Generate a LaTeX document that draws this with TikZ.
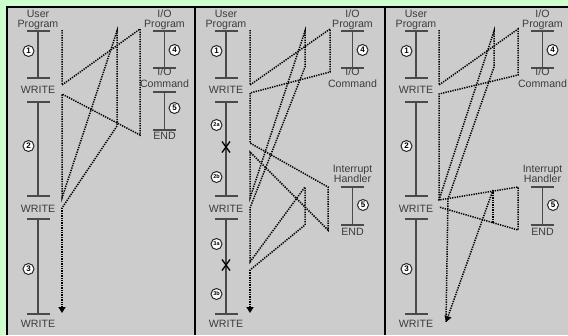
\documentclass[tikz,border=0pt]{standalone}
\usepackage{fontspec}
\setmainfont{Liberation Sans}
\usetikzlibrary{arrows.meta}
\definecolor{bggreen}{HTML}{CCFFCC}
\definecolor{panelgray}{HTML}{CCCCCC}
\definecolor{ink}{HTML}{3C3C3C}
\definecolor{rulegray}{HTML}{4A4A4A}
\tikzset{
  lbl/.style={font=\fontsize{10.6}{11}\selectfont, text=ink, inner sep=0pt, anchor=base},
  num/.style={circle, draw=black!85, fill=white, line width=1pt, minimum size=11pt, inner sep=0pt, font=\fontsize{8}{8}\selectfont\bfseries},
  snum/.style={num, font=\fontsize{5.5}{5.5}\selectfont\bfseries},
  tickline/.style={draw=rulegray, line width=1.2pt},
  trace/.style={draw=black, line width=1.5pt, dash pattern=on 1.3pt off 1.1pt},
  tip/.style={-{Triangle[width=7pt,length=6pt]}},
  xmark/.style={draw=black, line width=1.3pt}
}
\begin{document}
\begin{tikzpicture}[x=1pt,y=-1pt]
\useasboundingbox (0,0) rectangle (568,335);
\fill[bggreen] (0,0) rectangle (568,335);
\fill[panelgray] (6,6) rectangle (568,335);
\draw[line width=2pt] (6.5,335) -- (6.5,6.5) -- (568,6.5);
\draw[line width=2.2pt] (195,6.5) -- (195,335);
\draw[line width=2.2pt] (385,6.5) -- (385,335);

% ---------- user program columns (all panels) ----------
\foreach \o/\p in {0/A,188/B,378/C}{
  \begin{scope}[xshift=\o pt]
    \node[lbl] (\p user) at (38,17) {User};
    \node[lbl] (\p prog) at (38,27) {Program};
    \draw[tickline] (27,31) -- (50,31);
    \draw[tickline] (38,31) -- (38,78);
    \draw[tickline] (27,78) -- (50,78);
    \node[lbl] (\p wa) at (38,93) {WRITE};
    \draw[tickline] (27,102) -- (50,102);
    \draw[tickline] (38,102) -- (38,196);
    \draw[tickline] (27,196) -- (50,196);
    \node[lbl] (\p wb) at (38,212) {WRITE};
    \draw[tickline] (27,219) -- (50,219);
    \draw[tickline] (38,219) -- (38,314);
    \draw[tickline] (27,314) -- (50,314);
    \node[lbl] (\p wc) at (38,327) {WRITE};
    \node[num] (\p one) at (28.5,51) {1};
    % I/O program column
    \node[lbl] (\p io) at (164.5,17) {I/O};
    \node[lbl] (\p iop) at (164.5,27) {Program};
    \draw[tickline] (153,31) -- (176,31);
    \draw[tickline] (164.5,31) -- (164.5,68);
    \draw[tickline] (153,68) -- (176,68);
    \node[lbl] (\p ioc) at (164.5,75) {I/O};
    \node[lbl] (\p cmd) at (164.5,87) {Command};
    \node[num] (\p four) at (174.5,50) {4};
  \end{scope}
}
% panel 1 and 3 numbered circles
\node[num] (Atwo) at (28.5,146) {2};
\node[num] (Athree) at (28.5,269) {3};
\node[num] (Ctwo) at (406.5,146) {2};
\node[num] (Cthree) at (406.5,269) {3};
% panel 2 numbered circles and X marks
\node[snum] (Btwoa) at (216.5,125) {2a};
\node[snum] (Btwob) at (216.5,177) {2b};
\node[snum] (Bthreea) at (216.5,244) {3a};
\node[snum] (Bthreeb) at (216.5,294) {3b};
\draw[xmark] (222,141.5) -- (230,152.5);
\draw[xmark] (230,141.5) -- (222,152.5);
\draw[xmark] (222,259.5) -- (230,270.5);
\draw[xmark] (230,259.5) -- (222,270.5);

% panel 1: rest of I/O program
\draw[tickline] (153,92) -- (176,92);
\draw[tickline] (164.5,92) -- (164.5,130);
\draw[tickline] (153,130) -- (176,130);
\node[lbl] (Aend) at (164.5,139) {END};
\node[num] (Afive) at (174.5,108) {5};

% panels 2 and 3: interrupt handler
\foreach \o/\p in {188/B,378/C}{
  \begin{scope}[xshift=\o pt]
    \node[lbl] (\p int) at (164.5,172) {Interrupt};
    \node[lbl] (\p hdl) at (164.5,182) {Handler};
    \draw[tickline] (153,187) -- (176,187);
    \draw[tickline] (164.5,187) -- (164.5,225);
    \draw[tickline] (153,225) -- (176,225);
    \node[lbl] (\p end) at (164.5,235) {END};
    \node[num] (\p five) at (175,205) {5};
  \end{scope}
}

% ---------- traces: panel 1 ----------
\coordinate (a1) at (62,30);
\coordinate (a2) at (62,85);
\coordinate (a3) at (140,29);
\coordinate (a4) at (140,135);
\coordinate (a5) at (62,94);
\coordinate (a6) at (62,198);
\coordinate (a7) at (117,31);
\coordinate (a8) at (117,126);
\coordinate (a9) at (62,208);
\coordinate (a10) at (62,313);
\draw[trace] (a1) -- (a2) -- (a3) -- (a4) -- (a5) -- (a6) -- (a7) -- (a8) -- (a9);
\draw[trace,tip] (a9) -- (a10);

% ---------- traces: panel 2 ----------
\coordinate (b1) at (250,30);
\coordinate (b2) at (250,85);
\coordinate (b3) at (330,29);
\coordinate (b4) at (330,72);
\coordinate (b5) at (250,93);
\coordinate (b6) at (250,143);
\coordinate (b7) at (328,187);
\coordinate (b8) at (328,230);
\coordinate (b9) at (250,152);
\coordinate (b10) at (250,198);
\coordinate (b11) at (305,31);
\coordinate (b12) at (305,67);
\coordinate (b13) at (250,208);
\coordinate (b14) at (250,262);
\coordinate (b15) at (305,187);
\coordinate (b16) at (305,225);
\coordinate (b17) at (250,270);
\coordinate (b18) at (250,313);
\draw[trace] (b1) -- (b2) -- (b3) -- (b4) -- (b5) -- (b6) -- (b7) -- (b8) -- (b9) -- (b10) -- (b11) -- (b12) -- (b13) -- (b14) -- (b15) -- (b16) -- (b17);
\draw[trace,tip] (b17) -- (b18);

% ---------- traces: panel 3 ----------
\coordinate (c1) at (439,30);
\coordinate (c2) at (439,85);
\coordinate (c3) at (518,29);
\coordinate (c4) at (518,75);
\coordinate (c5) at (439,94);
\coordinate (c6) at (439,200);
\coordinate (c7) at (518,187);
\coordinate (c8) at (518,230);
\coordinate (c9) at (439,207);
\coordinate (c10) at (494,31);
\coordinate (c11) at (494,67);
\coordinate (c12) at (448,199);
\coordinate (c13) at (493,190);
\coordinate (c14) at (493,223);
\coordinate (c15) at (446,322);
\draw[trace] (c1) -- (c2) -- (c3) -- (c4) -- (c5) -- (c6) -- (c7) -- (c8) -- (c9);
\draw[trace] (c6) -- (c10) -- (c11) -- (c12) -- (c15);
\draw[trace] (c13) -- (c14);
\draw[trace,tip] (c13) -- (c15);
\end{tikzpicture}
\end{document}
